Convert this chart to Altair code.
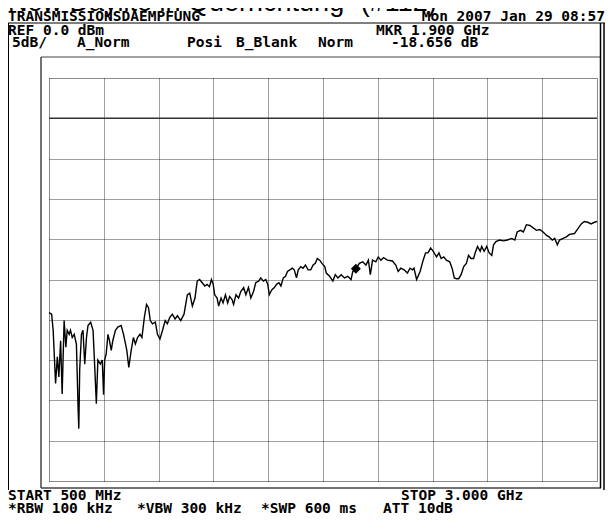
import altair as alt
import pandas as pd

# ---- trace data (frequency in MHz, level in dB) ----
freq_mhz = [500, 512, 519, 530, 538, 545, 553, 560, 569, 577, 583, 592, 598, 606, 615, 625, 633, 636, 640, 648,
            655, 663, 671, 678, 690, 701, 708, 716, 723, 734, 743, 749, 754, 761, 769, 776, 784, 791, 803, 814,
            829, 840, 849, 855, 864, 875, 885, 894, 904, 915, 924, 935, 945, 954, 962, 972, 985, 995, 1006, 1018,
            1030, 1040, 1051, 1063, 1075, 1086, 1101, 1116, 1131, 1142, 1154, 1166, 1176, 1187, 1199, 1211, 1221, 1232, 1241, 1249,
            1256, 1267, 1274, 1285, 1294, 1305, 1315, 1324, 1335, 1342, 1353, 1365, 1375, 1388, 1398, 1410, 1421, 1433, 1443, 1456,
            1466, 1478, 1489, 1498, 1505, 1516, 1528, 1538, 1549, 1558, 1569, 1579, 1588, 1599, 1610, 1619, 1629, 1637, 1649, 1659,
            1670, 1682, 1694, 1705, 1715, 1724, 1735, 1745, 1758, 1765, 1780, 1795, 1806, 1818, 1833, 1848, 1863, 1878, 1886, 1900,
            1916, 1931, 1946, 1957, 1966, 1976, 1991, 2002, 2014, 2026, 2044, 2067, 2082, 2093, 2105, 2120, 2135, 2147, 2158, 2165,
            2177, 2193, 2207, 2218, 2229, 2241, 2253, 2268, 2279, 2289, 2301, 2313, 2328, 2339, 2349, 2359, 2369, 2380, 2392, 2404,
            2414, 2425, 2437, 2444, 2455, 2467, 2474, 2485, 2497, 2508, 2520, 2528, 2539, 2555, 2573, 2591, 2611, 2625, 2636, 2651,
            2664, 2678, 2694, 2709, 2724, 2739, 2754, 2769, 2781, 2796, 2807, 2819, 2829, 2845, 2860, 2875, 2897, 2913, 2928, 2942,
            2958, 2973, 2988, 3000]
level_db = [-24.1, -24.3, -26.3, -32.9, -29.6, -32.1, -27.6, -34.2, -25.1, -28.4, -26.3, -26.8, -26.3, -27.2, -26.8, -28.0, -36.2, -38.5, -31.2, -26.8,
            -26.3, -30.5, -27.2, -25.7, -25.3, -26.3, -30.5, -35.4, -30.0, -30.5, -30.0, -34.3, -30.0, -29.2, -26.8, -27.6, -28.8, -27.6, -26.3, -25.9,
            -25.7, -26.8, -28.0, -28.8, -30.9, -28.8, -27.2, -28.0, -27.2, -26.8, -27.2, -24.7, -23.1, -23.5, -25.1, -25.5, -25.3, -26.8, -27.4, -26.3,
            -25.1, -25.5, -24.7, -24.3, -24.9, -24.5, -25.1, -24.3, -21.9, -21.7, -23.3, -22.3, -20.2, -20.0, -20.4, -20.8, -20.6, -20.9, -20.0, -20.6,
            -21.9, -22.3, -23.3, -22.3, -22.9, -21.9, -22.9, -22.1, -22.5, -23.1, -21.9, -22.3, -21.5, -21.0, -21.9, -21.0, -22.3, -21.5, -20.4, -20.2,
            -19.8, -20.2, -20.0, -20.6, -21.9, -21.3, -21.0, -20.6, -20.4, -20.8, -19.8, -19.6, -19.0, -18.8, -18.6, -18.8, -19.8, -18.8, -18.4, -18.6,
            -18.2, -18.8, -18.8, -18.2, -18.0, -17.4, -17.6, -18.0, -18.4, -19.2, -19.6, -20.2, -19.4, -19.8, -19.4, -19.8, -19.6, -20.0, -19.0, -18.656,
            -18.0, -17.8, -18.2, -17.6, -19.4, -17.6, -17.8, -17.2, -17.6, -17.3, -17.6, -17.7, -18.2, -19.0, -18.6, -18.8, -19.2, -18.6, -18.8, -18.6,
            -20.0, -19.0, -17.6, -16.7, -16.7, -16.1, -16.5, -17.2, -16.7, -17.4, -17.2, -17.6, -17.8, -18.6, -19.8, -19.9, -19.9, -19.4, -18.4, -18.0,
            -17.0, -17.4, -17.4, -16.7, -15.9, -16.5, -15.9, -16.5, -15.9, -16.7, -17.0, -15.7, -15.3, -15.1, -15.2, -15.1, -14.9, -15.1, -14.1, -13.9,
            -14.1, -13.2, -13.3, -13.6, -13.9, -13.8, -14.1, -14.5, -14.7, -15.1, -14.9, -15.7, -15.1, -14.9, -14.7, -14.4, -14.3, -13.7, -13.1, -12.8,
            -12.9, -13.1, -12.9, -12.8]

marker_freq = [1900]
marker_level = [-18.656]

grid_freqs = [500, 750, 1000, 1250, 1500, 1750, 2000, 2250, 2500, 2750, 3000]
grid_levels = [5, 0, -5, -10, -15, -20, -25, -30, -35, -40, -45]
ref_level = [0]

title_text = ["New Daylite in Querrichtung\u201c (#112)"]
header_left = ["TRANSMISSIONSDAEMPFUNG"]
header_right = ["Mon 2007 Jan 29 08:57"]
row1 = ["REF 0.0 dBm", "MKR 1.900 GHz"]
row2 = ["5dB/", "A_Norm", "Posi", "B_Blank", "Norm", "-18.656 dB"]
foot1 = ["START 500 MHz", "STOP 3.000 GHz"]
foot2 = ["*RBW 100 kHz", "*VBW 300 kHz", "*SWP 600 ms", "ATT 10dB"]

trace = pd.DataFrame({"f": freq_mhz, "db": level_db})
marker = pd.DataFrame({"f": marker_freq, "db": marker_level})

# page geometry (page pixels; the chart itself starts at page x=8, y=8)
OX, OY = 49, 78          # plot-area origin on the page
W, H = 548, 403          # plot-area size
PAGE_R, PAGE_B = 605, 514

xs = alt.Scale(domain=[500, 3000], nice=False, zero=False)
ys = alt.Scale(domain=[-45, 5], nice=False, zero=False)

grid_axis_x = alt.Axis(values=grid_freqs, grid=True, labels=False, ticks=False, domain=False, title=None,
                       gridColor="#111111", gridDash=[1, 1], gridWidth=1, gridOpacity=0.8)
grid_axis_y = alt.Axis(values=grid_levels, grid=True, labels=False, ticks=False, domain=False, title=None,
                       gridColor="#111111", gridDash=[1, 1], gridWidth=1, gridOpacity=0.8)

line = alt.Chart(trace).mark_line(color="black", strokeWidth=1.4, interpolate="linear").encode(
    x=alt.X("f:Q", scale=xs, axis=grid_axis_x),
    y=alt.Y("db:Q", scale=ys, axis=grid_axis_y),
)

ref = alt.Chart(pd.DataFrame({"db": ref_level})).mark_rule(color="#333333", strokeWidth=1.6).encode(
    y=alt.Y("db:Q", scale=ys)
)

mk = alt.Chart(marker).mark_point(shape="diamond", filled=True, color="black", size=100, opacity=1).encode(
    x=alt.X("f:Q", scale=xs), y=alt.Y("db:Q", scale=ys)
)

MONO = "DejaVu Sans Mono"


def T(s, px, py, size=14.5, font=MONO, weight="bold", align="left"):
    return alt.Chart(pd.DataFrame({"t": [s]})).mark_text(
        align=align, baseline="alphabetic", font=font, fontSize=size, fontWeight=weight, color="black"
    ).encode(text="t:N", x=alt.value(px - OX), y=alt.value(py - OY))


texts = [
    T(title_text[0], 8, 11, size=27, font="Liberation Sans", weight="normal"),
    T(header_left[0], 8, 21),
    T(header_right[0], 605, 21, align="right"),
    T(row1[0], 8, 35),
    T(row1[1], 376, 35),
    T(row2[0], 12, 47),
    T(row2[1], 77, 47),
    T(row2[2], 187, 47),
    T(row2[3], 236, 47),
    T(row2[4], 318, 47),
    T(row2[5], 391, 47),
    T(foot1[0], 8, 500),
    T(foot1[1], 401, 500),
    T(foot2[0], 8, 513),
    T(foot2[1], 137, 513),
    T(foot2[2], 261, 513),
    T(foot2[3], 383, 513),
]


def hline(px1, px2, py, w=1, c="black"):
    return alt.Chart(pd.DataFrame({"k": [0]})).mark_rule(color=c, strokeWidth=w).encode(
        x=alt.value(px1 - OX), x2=alt.value(px2 - OX), y=alt.value(py - OY))


def vline(px, py1, py2, w=1, c="black"):
    return alt.Chart(pd.DataFrame({"k": [0]})).mark_rule(color=c, strokeWidth=w).encode(
        x=alt.value(px - OX), y=alt.value(py1 - OY), y2=alt.value(py2 - OY))


frames = [
    hline(8, 605, 23),
    vline(8.5, 23, 490),
    hline(41, 601, 57, c="#444444"),
    vline(41, 57, 488, w=1.5, c="#444444"),
    hline(41, 601, 488, w=1.5, c="#444444"),
    vline(600.5, 23, 488, w=1.5),
    vline(604, 23, 490, w=1.5),
]

chart = alt.layer(line, ref, mk, *texts, *frames).properties(
    width=W, height=H,
    autosize=alt.AutoSizeParams(type="none"),
    padding={"left": OX - 8, "top": OY - 8, "right": PAGE_R - OX - W, "bottom": PAGE_B - OY - H},
).configure_view(stroke="#555555", strokeWidth=2).configure(background="white")

chart.save("out.html", embed_options={"renderer": "svg", "actions": False})
